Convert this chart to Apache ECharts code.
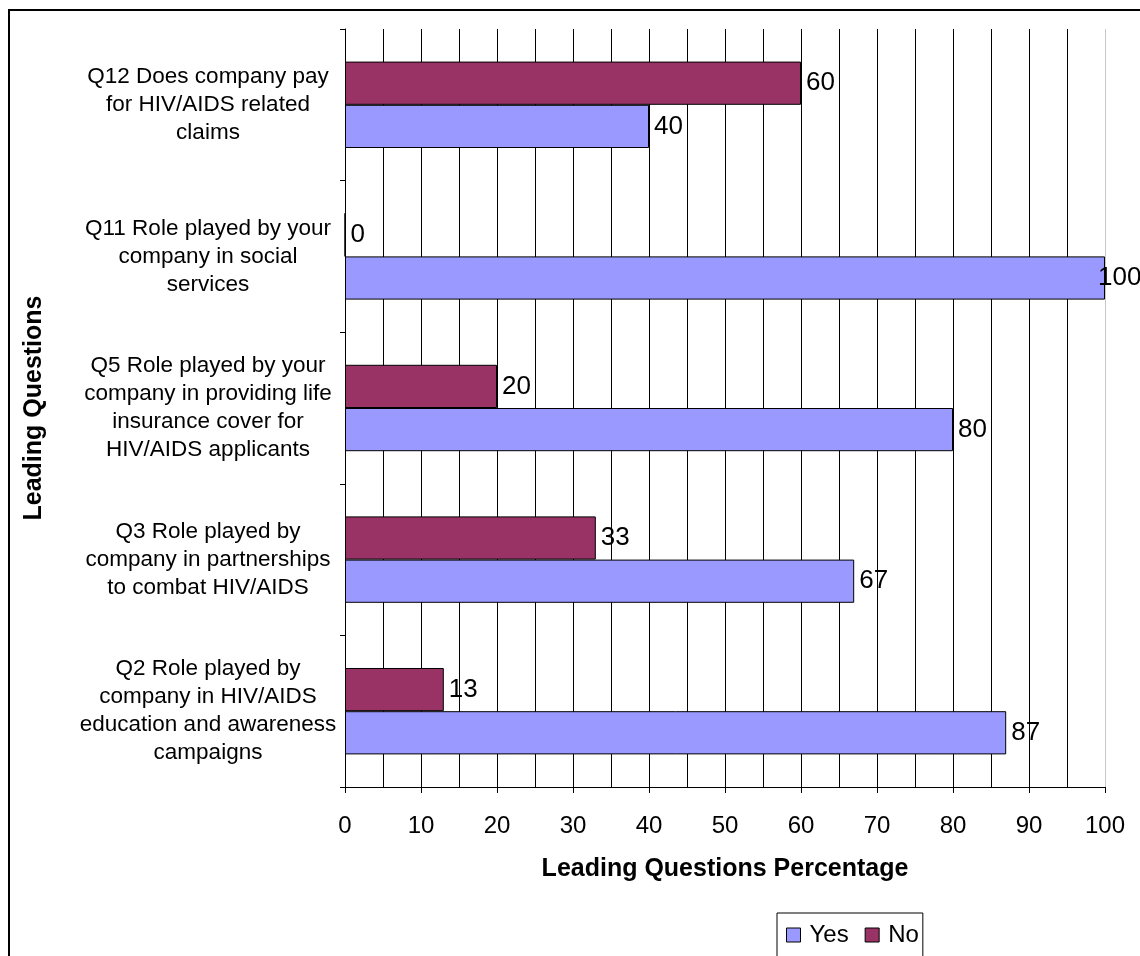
<!DOCTYPE html>
<html>
<head>
<meta charset="utf-8">
<script src="https://cdn.jsdelivr.net/npm/echarts@6/dist/echarts.min.js"></script>
<style>
  html, body { margin: 0; padding: 0; background: #fff; }
  #chart { width: 1140px; height: 956px; }
</style>
</head>
<body>
<div id="chart"></div>
<script>
// Survey questions, listed bottom to top as drawn on the category axis
const categories = [
  'Q2 Role played by\ncompany in HIV/AIDS\neducation and awareness\ncampaigns',
  'Q3 Role played by\ncompany in partnerships\nto combat HIV/AIDS',
  'Q5 Role played by your\ncompany in providing life\ninsurance cover for\nHIV/AIDS applicants',
  'Q11 Role played by your\ncompany in social\nservices',
  'Q12 Does company pay\nfor HIV/AIDS related\nclaims'
];
const yesValues = [87, 67, 80, 100, 40];
const noValues = [13, 33, 20, 0, 60];
const seriesNames = ['Yes', 'No'];
const xTicks = [0, 10, 20, 30, 40, 50, 60, 70, 80, 90, 100];

const FONT = '"Liberation Sans", Arial, sans-serif';
const X_MAX = 100;
const chart = echarts.init(document.getElementById('chart'));

// major grid lines are black, the one at the far right is pale grey
const splitColors = xTicks.map((v, i) => i === xTicks.length - 1 ? '#c8c8c8' : '#000');

const valueLabel = {
  show: true,
  position: 'right',
  distance: 5,
  color: '#000',
  fontFamily: FONT,
  fontSize: 26
};

// a label on a bar that reaches the end of the axis is pulled back onto the bar's end
const barData = values => values.map(v => v >= X_MAX
  ? { value: v, label: { distance: 0, offset: [-7, 0] } }
  : v);

chart.setOption({
  backgroundColor: '#fff',
  animation: false,
  graphic: [{
    type: 'rect',
    shape: { x: 9, y: 10, width: 1200, height: 1000 },
    style: { fill: 'none', stroke: '#000', lineWidth: 2 },
    silent: true
  }],
  grid: { left: 345, right: 35, top: 29, bottom: 169, containLabel: false },
  legend: {
    data: seriesNames,
    left: 777,
    top: 913,
    orient: 'horizontal',
    padding: [10, 4, 10, 9],
    itemWidth: 14,
    itemHeight: 14,
    itemGap: 16,
    icon: 'rect',
    borderColor: '#000',
    borderWidth: 1,
    itemStyle: { borderColor: '#000', borderWidth: 1 },
    textStyle: { color: '#000', fontFamily: FONT, fontSize: 24, padding: [0, 0, 0, 4] }
  },
  xAxis: {
    type: 'value',
    min: 0,
    max: X_MAX,
    interval: 10,
    name: 'Leading Questions Percentage',
    nameLocation: 'middle',
    nameGap: 70,
    nameTextStyle: { color: '#000', fontFamily: FONT, fontSize: 25, fontWeight: 'bold' },
    axisLine: { show: true, lineStyle: { color: '#000', width: 1 } },
    axisTick: { show: true, length: 6, lineStyle: { color: '#000' } },
    axisLabel: {
      margin: 27,
      color: '#000',
      fontFamily: FONT,
      fontSize: 24,
      formatter: v => String(v)
    },
    splitLine: { show: true, lineStyle: { color: splitColors, width: 1 } },
    minorTick: { show: false, splitNumber: 2 },
    minorSplitLine: { show: true, lineStyle: { color: '#000', width: 1 } }
  },
  yAxis: {
    type: 'category',
    data: categories,
    name: 'Leading Questions',
    nameLocation: 'middle',
    nameGap: 298,
    nameRotate: 90,
    nameTextStyle: { color: '#000', fontFamily: FONT, fontSize: 25, fontWeight: 'bold' },
    axisLine: { show: true, lineStyle: { color: '#000', width: 1 } },
    axisTick: { show: true, length: 5, alignWithLabel: false, lineStyle: { color: '#000' } },
    axisLabel: {
      margin: 137,
      align: 'center',
      color: '#000',
      fontFamily: FONT,
      fontSize: 22.5,
      lineHeight: 28
    },
    splitLine: { show: false }
  },
  // "No" is listed first so it sits above "Yes" within each question
  series: [
    {
      name: seriesNames[1],
      type: 'bar',
      data: barData(noValues),
      barGap: '0%',
      barCategoryGap: '43%',
      itemStyle: { color: '#993366', borderColor: '#000', borderWidth: 1 },
      label: valueLabel
    },
    {
      name: seriesNames[0],
      type: 'bar',
      data: barData(yesValues),
      barGap: '0%',
      barCategoryGap: '43%',
      itemStyle: { color: '#9999FF', borderColor: '#000', borderWidth: 1 },
      label: valueLabel
    }
  ]
});
</script>
</body>
</html>
